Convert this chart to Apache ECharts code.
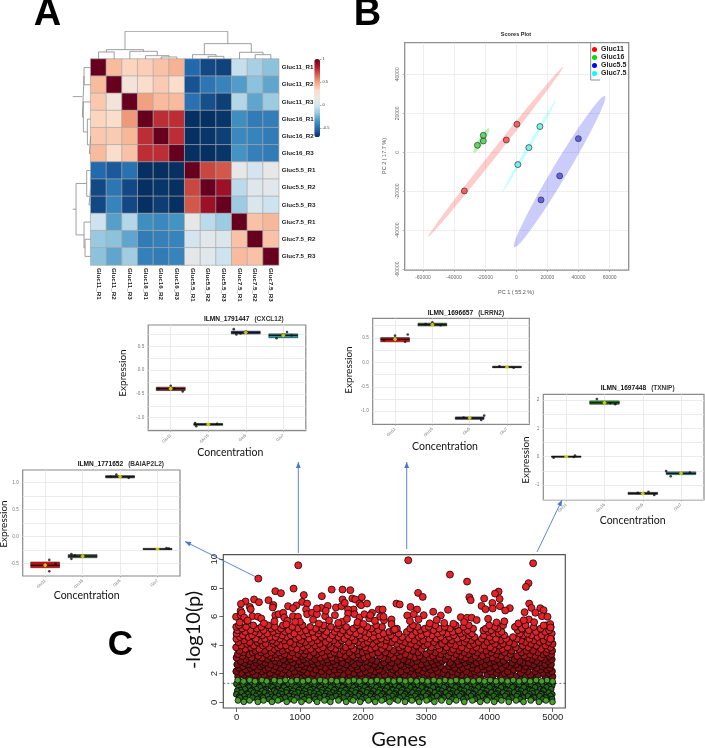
<!DOCTYPE html>
<html><head><meta charset="utf-8">
<style>html,body{margin:0;padding:0;background:#fff}#c{width:705px;height:748px}</style>
<script src="https://cdn.jsdelivr.net/npm/echarts@6/dist/echarts.min.js"></script>
</head><body><div id="c"></div>
<script>
// ---------- A: correlation heat map ----------
const samples=['Gluc11_R1','Gluc11_R2','Gluc11_R3','Gluc16_R1','Gluc16_R2','Gluc16_R3','Gluc5.5_R1','Gluc5.5_R2','Gluc5.5_R3','Gluc7.5_R1','Gluc7.5_R2','Gluc7.5_R3'];
const corr=[
[1,.42,.34,.36,.40,.45,-.52,-.62,-.64,-.05,-.13,-.2],
[.42,1,.22,.30,.37,.30,-.59,-.47,-.42,-.33,-.2,-.30],
[.38,.22,1,.50,.42,.42,-.49,-.6,-.65,-.1,-.3,-.16],
[.34,.30,.52,1,.78,.78,-.72,-.72,-.68,-.38,-.45,-.44],
[.38,.37,.43,.78,1,.78,-.7,-.68,-.65,-.4,-.42,-.45],
[.42,.3,.4,.78,.78,1,-.72,-.72,-.68,-.36,-.43,-.45],
[-.52,-.57,-.49,-.72,-.7,-.7,1,.72,.68,.12,0,.12],
[-.62,-.47,-.62,-.72,-.68,-.72,.72,1,.88,-.08,.07,.08],
[-.62,-.42,-.62,-.7,-.66,-.7,.68,.88,1,-.16,.03,-.03],
[-.03,-.32,-.1,-.38,-.4,-.36,.12,-.08,-.16,1,.4,.43],
[-.17,-.2,-.3,-.45,-.43,-.42,0,.08,.04,.4,1,.4],
[-.2,-.3,-.15,-.43,-.45,-.42,.1,.08,-.03,.42,.4,1]];
const corrTicks=[1,0.5,0,-0.5];
// dendrogram merges: [leftPos,leftHeight,rightPos,rightHeight,height]
const dendroTop=[[.5,0,1.5,0,21],[4.5,0,5.5,0,6],[3.5,0,5,6,10],[2.5,0,4.25,10,23],[1,21,3.375,23,28],[7.5,0,8.5,0,8],[6.5,0,8,8,13],[10.5,0,11.5,0,13],[9.5,0,11,13,20],[7.25,13,10.25,20,46],[2.19,28,8.75,46,83]];
const dendroLeft=[[.5,0,1.5,0,20],[4.5,0,5.5,0,4],[3.5,0,5,4,10],[2.5,0,4.25,10,22],[1,20,3.375,22,25],[2.19,25,2.19,54,54],[7.5,0,8.5,0,5],[6.5,0,8,5,12],[10.5,0,11.5,0,17],[9.5,0,11,17,20],[7.25,12,10.25,20,44],[8.75,44,8.75,54,54]];
const rdbu=['#053061','#2166ac','#4393c3','#92c5de','#d1e5f0','#ece8e5','#fddbc7','#f4a582','#d6604d','#b2182b','#67001f'];

// ---------- B: PCA scores ----------
const pcaGroups=['Gluc11','Gluc16','Gluc5.5','Gluc7.5'];
const pcaRed=[[-33400,-19800],[-6400,6300],[400,14400]];
const pcaGreen=[[-25000,3600],[-21200,5800],[-21200,8700]];
const pcaBlue=[[15900,-24400],[27900,-12100],[39900,7000]];
const pcaCyan=[[1000,-6300],[8100,2400],[15200,13200]];
// ellipses: tip x, tip y, tip x, tip y
const ellRed=[-56600,-43250,30200,43900];
const ellGreen=[-27200,-170,-17600,12300];
const ellBlue=[-1300,-48700,57000,28900];
const ellCyan=[-8800,-20200,25500,26800];
const pcaXTicks=[-60000,-40000,-20000,0,20000,40000,60000];
const pcaYTicks=[-60000,-40000,-20000,0,20000,40000];

// ---------- C: gene box plots ----------
const concCats=['Glu11','Glu16','Glu5','Glu7'];
// box rows: category, upper, median, lower
const cxclBoxes=[[1,-.36,-.39,-.43],[2,-1.12,-1.14,-1.16],[3,.817,.79,.76],[4,.76,.73,.68]];
const cxclPoints=[[1,-.33],[1.32,-.45],[.67,-.39],[1.1,-.39],[1.65,-1.11],[1.68,-1.18],[2.24,-1.13],[2.68,.86],[2.75,.75],[2.86,.77],[3,.81],[3.82,.67],[4,.75],[4.1,.80],[4.22,.73]];
const lrrnBoxes=[[1,.505,.47,.42],[2,.80,.77,.745],[3,-1.118,-1.14,-1.166],[4,-.08,-.10,-.11]];
const lrrnPoints=[[1,.545],[1.34,.57],[1.27,.42],[.7,.45],[1.82,.78],[2,.82],[2.22,.76],[3.31,-1.18],[3.39,-1.09],[2.84,-1.13],[3.8,-.08],[4.18,-.11]];
const txnipBoxes=[[1,.02,0,-.02],[2,1.965,1.9,1.85],[3,-1.26,-1.3,-1.33],[4,-.54,-.59,-.635]];
const txnipPoints=[[.67,-.04],[1.23,.04],[1.2,-.01],[1.8,2.03],[2.15,1.89],[2.28,1.85],[2.87,-1.28],[3.15,-1.24],[3.3,-1.35],[3.61,-.51],[3.73,-.69],[4.23,-.565]];
const baiapBoxes=[[1,-.47,-.53,-.574],[2,-.333,-.36,-.389],[3,1.13,1.11,1.09],[4,-.216,-.23,-.24]];
const baiapPoints=[[1.11,-.43],[1.11,-.64],[1.28,-.5],[1.7,-.32],[1.7,-.41],[1.79,-.35],[2.9,1.15],[3.23,1.09],[2.75,1.11],[4.3,-.22],[4.24,-.21]];
const cxclColors=['#a01818','#2e6b34','#1f2f7f','#1b9aa0'];
const lrrnColors=['#e40000','#1f5a2a','#2a3358','#333333'];
const txnipColors=['#333333','#12a012','#333333','#12a9b4'];
const baiapColors=['#e00000','#2d5f33','#2a3358','#666666'];
const cxclTicks=[-1,-.5,0,.5], cxclMinor=[-1.25,-1,-.75,-.5,-.25,0,.25,.5,.75];
const lrrnTicks=[-1,-.5,0,.5], lrrnMinor=[-1.25,-1,-.75,-.5,-.25,0,.25,.5,.75];
const txnipTicks=[-1,0,1,2], txnipMinor=[-1.5,-1,-.5,0,.5,1,1.5,2];
const baiapTicks=[-.5,0,.5,1], baiapMinor=[-.75,-.5,-.25,0,.25,.5,.75,1];

// ---------- C: -log10(p) per gene, read by eye ----------
const redPeaks=[[342,8.65],[974,9.58],[611,7.77],[700,7.63],[900,7.95],[1062,7.5],[1347,7.42],[1503,7.88],[1674,7.88],[1798,7.84],[1980,7.35],[275,7.19],[352,7],[140,7.05],[67,6.88],[503,7.14],[580,6.8],[570,6.63],[207,6.67],[222,6.51],[813,6.72],[943,6.77],[891,6.58],[1036,7.02],[1114,6.9],[1098,6.49],[1337,6.6],[1440,6.74],[1570,6.63],[1658,6.72],[1674,7.19],[1710,6.95],[1829,7.26],[1876,7.19],[1943,6.9],[1969,6.79],[2062,6.9],[1850,6.49],[1762,6.49],[2249,6.49],[2140,6.26],[2270,5.98],[-10,5.98],[62,6.09],[62,6.4],[78,6.26],[119,5.93],[166,5.67],[249,6.02],[337,5.98],[389,5.86],[611,6.09],[663,6.16],[736,6.26],[751,5.93],[803,5.7],[891,6.02],[969,5.98],[1000,5.63],[1114,6.16],[1192,6.26],[1269,6.16],[1269,6.56],[1399,6.02],[1409,6.4],[1554,6.09],[1668,5.63],[1762,6.21],[1865,6.16],[1943,5.93],[2021,6.16],[2098,5.86],[2114,6.09],[2332,5.74],
[2714,9.93],[4690,9.72],[3374,8.93],[3645,8.44],[4617,8.33],[4576,8.07],[2870,7.65],[2943,7.37],[4144,7.74],[4087,7.6],[3681,7.35],[3702,7.14],[3915,7.26],[4160,7.23],[4045,6.95],[4628,6.9],[3874,6.74],[3936,6.51],[4050,6.56],[4165,6.72],[4321,6.58],[4248,6.42],[4664,6.6],[4804,6.58],[4856,6.44],[4555,6.3],[4726,6.26],[2527,6.9],[2579,6.84],[2750,6.67],[2854,6.49],[3343,6.47],[3109,6.33],[3229,6.07],[3546,5.95],[3645,5.91],[3718,5.91],[2958,6.09],[2698,6.07],[2802,6.16],[2449,5.79],[2449,5.47],[2501,5.09],[2309,6.49],[2324,5.98],[4623,5.79],[4830,6.02],[4918,5.98],[4960,5.47],[4856,5.37],[4965,5.23],[4965,4.44],
[48,5.58],[174,5.71],[432,5.52],[598,5.66],[785,5.45],[925,5.62],[1208,5.77],[1301,5.5],[1462,5.72],[1605,5.55],[1745,5.83],[1912,5.6],[2003,5.48],[2186,5.7],[2741,5.68],[2877,5.8],[3054,5.52],[3166,5.76],[3283,5.55],[3428,5.49],[3598,5.61],[3797,5.75],[3978,5.84],[4111,5.58],[4235,5.66],[4458,5.52],[4542,5.74],[4706,5.6]];
// rows: -log10(p) followed by gene positions
const redRows=[
[1.68,161,318,476,745,1003,1104,1233,1575,1655,1880,2207,2362,2579,2836,3052,3215,3381,3505,3710,3861,4037,4274,4517,4691,4924],
[1.80,22,240,372,550,681,879,1179,1286,1448,1748,1986,2075,2266,2417,2714,2957,3150,3422,3612,3786,4176,4409,4574,4885,4996],
[1.92,116,296,434,602,786,948,1091,1370,1520,1680,1792,2151,2343,2498,2651,2805,3096,3323,3556,3967,4056,4331,4648,4770],
[2.04,75,186,528,712,833,1122,1213,1599,1852,1959,2092,2444,2556,2889,3012,3265,3489,3695,3840,4115,4236,4494,4851,4940],
[2.16,-7,251,399,640,915,1014,1340,1467,1769,2036,2188,2306,2603,2745,2939,3173,3408,3631,3762,4018,4287,4601,4724,4989],
[2.28,142,330,457,584,765,1050,1252,1543,1640,1914,2118,2253,2475,2691,2868,3071,3296,3529,3806,3909,4141,4380,4542,4805,4910],
[2.40,39,215,503,690,870,983,1160,1401,1699,1823,2001,2372,2518,2778,2978,3139,3446,3577,3720,3994,4198,4460,4749,4956],
[2.52,96,267,376,618,808,1076,1316,1492,1618,1897,2067,2224,2422,2641,2832,3032,3230,3357,3651,3883,4093,4310,4570,4662,4838],
[2.64,8,178,421,539,745,957,1028,1209,1559,1733,1860,2177,2291,2593,2724,2925,3121,3414,3520,3742,3935,4256,4416,4698,4880,4973],
[2.76,124,312,451,672,889,1112,1283,1441,1671,1944,2105,2332,2449,2767,3006,3188,3376,3613,3799,4008,4166,4358,4533,4623,4782],
[2.88,63,211,365,604,796,992,1188,1362,1528,1808,2046,2210,2546,2699,2850,3083,3252,3497,3684,3867,4075,4224,4478,4741,4927],
[3.00,152,285,488,736,852,1058,1237,1426,1590,1759,1968,2138,2396,2634,2958,3160,3305,3567,3702,3951,4121,4395,4672,4865,4985],
[3.12,-2,234,403,571,643,926,1131,1322,1503,1652,1877,2019,2316,2481,2812,3052,3208,3433,3620,3829,4046,4277,4596,4814],
[3.24,89,340,525,702,831,1037,1153,1392,1715,1839,2085,2267,2584,2737,2896,3105,3347,3541,3776,3893,4183,4437,4549,4721,4953],
[3.36,18,195,472,610,757,969,1074,1267,1478,1634,1922,2151,2435,2667,2999,3231,3471,3663,3975,4107,4328,4640,4846,4978],
[3.48,107,252,386,549,668,883,1219,1344,1545,1781,1990,2238,2351,2529,2868,3141,3392,3598,3807,4028,4240,4505,4768,4900],
[3.60,46,298,441,725,1011,1100,1436,1689,1896,2058,2477,2601,2786,3063,3274,3515,3731,3944,4136,4349,4583,4688,4991],
[3.72,139,358,597,810,947,1171,1298,1567,1848,2122,2299,2712,2923,3209,3426,3643,3858,4063,4203,4461,4817,4919],
[3.84,-9,226,513,651,866,1049,1365,1489,1727,2033,2192,2408,2570,3076,3318,3561,3790,4012,4285,4416,4614,4967],
[3.96,74,272,414,694,779,1118,1243,1623,1810,1951,2342,2625,2845,2967,3186,3459,3688,3919,4154,4524,4742,4887],
[4.08,163,459,586,901,1000,1316,1451,1595,2008,2146,2274,2529,2756,3020,3248,3383,3752,4086,4214,4388,4657,4999],
[4.20,27,205,329,628,843,1083,1182,1407,1772,1921,2071,2453,2659,2893,3122,3531,3604,3827,3966,4310,4566,4793,4934],
[4.32,118,374,562,748,1021,1274,1533,1663,1865,2217,2368,2583,2811,2948,3295,3402,3710,4039,4177,4498,4702,4854],
[4.44,-6,301,446,682,936,1147,1469,1704,1979,2109,2283,2501,2724,3047,3161,3488,3631,3878,4101,4262,4431,4631,4975],
[4.56,51,183,530,615,792,989,1227,1338,1606,1817,2043,2162,2386,2617,2881,3226,3362,3574,3763,4002,4370,4759,4912],
[4.68,97,243,406,718,857,1064,1395,1512,1758,1939,2255,2440,2773,2924,3092,3435,3676,3911,4234,4540,4664,4826],
[4.80,-3,352,483,640,911,1126,1288,1642,1884,2092,2323,2561,3009,3178,3331,3544,3720,4058,4147,4479,4598,4985],
[4.92,133,288,577,764,1007,1199,1423,1551,1793,2014,2176,2414,2692,2839,3255,3417,3618,3986,4192,4733,4881],
[5.03,12,221,426,659,823,1095,1308,1679,1962,2238,2479,2906,3115,3507,3652,3902,4025,4446,4622,4944],
[5.15,84,317,545,702,968,1251,1356,1587,1845,2129,2535,2744,2977,3203,3372,3741,3940,4129,4512,4807],
[5.27,-8,148,391,604,879,1163,1490,1732,2066,2301,2861,3038,3291,3589,4083,4401,4698,4968],
[5.38,35,262,498,731,1042,1377,1618,1904,2207,2788,3142,3466,3673,3995,4216,4571,4893]];
const greenBright=[
[1.55,15,205,398,593,771,952,1133,1319,1498,1672,1853,2038,2219,2395,2579,2752,2935,3117,3298,3472,3651,3836,4012,4192,4375,4553,4737,4910],
[1.47,108,290,476,684,864,1047,1226,1402,1585,1769,1941,2126,2303,2484,2668,2847,3021,3206,3387,3564,3743,3921,4103,4286,4468,4644,4826,4998],
[0.13,20,203,425,652,909,1143,1388,1609,1842,2083,2294,2551,2772,3004,3241,3474,3728,3962,4189,4421,4652,4893],
[0.03,112,334,558,791,1024,1272,1482,1731,1954,2191,2418,2663,2887,3128,3362,3601,3853,4074,4304,4539,4781,4996]];
const greenDark=[
[1.40,47,163,341,522,730,905,1088,1276,1451,1628,1812,1996,2172,2351,2538,2715,2893,3074,3246,3429,3606,3790,3968,4147,4326,4505,4689,4868],
[1.34,126,392,571,804,1013,1171,1406,1590,1701,1938,2117,2289,2490,2649,2847,3118,3285,3502,3673,3861,4092,4260,4466,4621,4825,4999],
[1.28,-4,238,427,616,818,1002,1190,1364,1553,1727,1905,2085,2262,2443,2621,2803,2979,3161,3342,3517,3700,3880,4058,4238,4418,4596,4779,4957],
[1.16,92,285,501,662,877,1061,1247,1409,1606,1783,1968,2141,2317,2509,2684,2861,3037,3221,3398,3577,3761,3934,4123,4293,4471,4653,4836,4990],
[1.10,183,355,548,735,958,1140,1302,1524,1690,1873,2044,2236,2429,2574,2790,2941,3146,3313,3489,3682,3848,4030,4211,4385,4570,4763,4945],
[1.04,31,197,372,570,749,934,1118,1325,1486,1675,1846,2026,2208,2380,2569,2752,2926,3105,3279,3466,3644,3823,4001,4182,4362,4541,4721,4902],
[0.92,130,312,463,641,841,1023,1207,1388,1564,1740,1932,2103,2290,2457,2640,2817,3002,3183,3356,3535,3718,3905,4083,4263,4440,4622,4808,4975],
[0.86,52,245,436,597,792,985,1163,1354,1542,1718,1889,2071,2263,2473,2618,2829,3012,3197,3372,3549,3751,3892,4105,4279,4454,4640,4851],
[0.80,8,226,405,591,703,892,1075,1263,1442,1649,1818,1989,2164,2346,2526,2698,2878,3059,3243,3421,3598,3777,3952,4137,4315,4497,4675,4853],
[0.68,76,269,447,628,785,970,1156,1339,1519,1695,1881,2061,2240,2420,2599,2783,2955,3136,3311,3493,3672,3859,4029,4215,4391,4570,4754,4938],
[0.62,164,329,512,681,873,1046,1228,1421,1583,1771,1947,2134,2315,2507,2674,2868,3029,3219,3400,3566,3745,3928,4118,4302,4477,4683,4826],
[0.56,-6,180,355,538,716,916,1098,1297,1473,1613,1791,1950,2123,2303,2491,2662,2842,3018,3197,3375,3553,3737,3916,4096,4274,4452,4632,4815,4993],
[0.44,119,301,486,659,828,1036,1218,1392,1572,1752,1925,2108,2278,2461,2635,2821,2993,3168,3350,3524,3706,3888,4066,4249,4430,4607,4792,4966],
[0.38,37,207,394,563,741,903,1114,1276,1462,1642,1829,2004,2188,2362,2557,2725,2904,3081,3262,3437,3619,3795,3972,4151,4338,4518,4698,4899],
[0.32,54,250,418,606,767,950,1141,1310,1500,1688,1866,2046,2222,2399,2578,2756,2912,3090,3272,3448,3631,3813,3990,4169,4347,4528,4705,4883],
[0.22,140,328,513,692,857,1069,1242,1430,1620,1797,1976,2153,2329,2513,2690,2865,3047,3228,3405,3584,3768,3943,4113,4301,4484,4660,4843,4990]];
const manXTicks=[0,1000,2000,3000,4000,5000];
const manYTicks=[0,2,4,6,8,10];
const thresholdP=1.33;

// ---------- layout & style (no data below) ----------
const SANS='"Liberation Sans",Arial,sans-serif', HUM='Lato,"Open Sans",sans-serif';
const grids=[],xAxes=[],yAxes=[],series=[],titles=[],graphics=[];
function addGrid(box,x,y){grids.push(Object.assign({containLabel:false},box));const i=grids.length-1;
  xAxes.push(Object.assign({gridIndex:i},x));yAxes.push(Object.assign({gridIndex:i},y));return i;}
const hidden={show:false};
const noLine={show:false,onZero:false};
const plain=v=>String(v);
const expand=rows=>rows.flatMap(r=>r.slice(1).map(x=>[x,r[0]]));

// heat map
const hm=addGrid({left:90.7,top:59,width:188,height:206,show:false},
 {type:'category',data:samples,position:'bottom',axisLine:hidden,axisTick:hidden,axisLabel:{rotate:-90,fontSize:6.2,fontWeight:'bold',color:'#222',fontFamily:SANS,margin:3,interval:0}},
 {type:'category',data:samples,inverse:true,position:'right',axisLine:hidden,axisTick:hidden,axisLabel:{fontSize:6.2,fontWeight:'bold',color:'#222',fontFamily:SANS,margin:3,interval:0}});
const hmData=[];corr.forEach((row,r)=>row.forEach((v,c)=>hmData.push([c,r,v])));
series.push({id:'heat',type:'heatmap',xAxisIndex:hm,yAxisIndex:hm,data:hmData,itemStyle:{borderColor:'#a9a9a9',borderWidth:.7},silent:true});
// colour bar ticks
const cb=addGrid({left:314.3,top:59,width:5.7,height:78,show:false},
 {type:'value',show:false,min:0,max:1},
 {type:'value',min:-.7,max:1,position:'right',axisLine:noLine,splitLine:hidden,axisTick:{length:1.5,lineStyle:{color:'#555',width:.5},customValues:corrTicks},axisLabel:{fontSize:4,color:'#333',margin:2.5,fontFamily:SANS,customValues:corrTicks}});
// dendrograms
const dt=addGrid({left:90.7,top:31.3,width:188,height:27.7,show:false},{type:'value',show:false,min:0,max:12},{type:'value',show:false,min:0,max:83});
dendroTop.forEach(m=>series.push({type:'line',xAxisIndex:dt,yAxisIndex:dt,symbol:'none',silent:true,lineStyle:{color:'#888',width:.8},data:[[m[0],m[1]],[m[0],m[4]],[m[2],m[4]],[m[2],m[3]]]}));
const dl=addGrid({left:72.7,top:59,width:18,height:206,show:false},{type:'value',show:false,min:0,max:54,inverse:true},{type:'value',show:false,min:0,max:12,inverse:true});
dendroLeft.forEach(m=>series.push({type:'line',xAxisIndex:dl,yAxisIndex:dl,symbol:'none',silent:true,lineStyle:{color:'#888',width:.8},data:[[m[1],m[0]],[m[4],m[0]],[m[4],m[2]],[m[3],m[2]]]}));

// PCA
const gridDot={lineStyle:{color:'#dedede',type:'dotted',width:1}};
const pca=addGrid({left:404.7,top:42.7,width:224,height:227.3,show:true,borderColor:'#8f8f8f',borderWidth:1.3,backgroundColor:'#fff'},
 {type:'value',min:-71740,max:72270,splitLine:Object.assign({show:true},gridDot),axisLine:noLine,axisTick:{length:2,lineStyle:{color:'#777',width:.5},customValues:pcaXTicks},axisLabel:{fontSize:5,color:'#666',margin:5,fontFamily:SANS,customValues:pcaXTicks,formatter:plain}},
 {type:'value',min:-60350,max:56200,splitLine:Object.assign({show:true},gridDot),axisLine:noLine,axisTick:{length:2,lineStyle:{color:'#777',width:.5},customValues:pcaYTicks},axisLabel:{fontSize:5,color:'#666',margin:5,rotate:90,fontFamily:SANS,customValues:pcaYTicks,formatter:plain}});
const pcaStyle=[['rgba(255,0,0,.2)',pcaRed,ellRed,3.2,'rgba(245,60,60,.75)'],['rgba(0,190,0,.25)',pcaGreen,ellGreen,2.8,'rgba(60,205,60,.75)'],['rgba(0,0,230,.2)',pcaBlue,ellBlue,7.5,'rgba(70,70,225,.8)'],['rgba(0,255,255,.22)',pcaCyan,ellCyan,1.7,'rgba(90,235,235,.75)']];
function ellipseItem(params,api){
  const a=api.coord([api.value(0),api.value(1)]),b=api.coord([api.value(2),api.value(3)]);
  const cx=(a[0]+b[0])/2,cy=(a[1]+b[1])/2,dx=(b[0]-a[0])/2,dy=(b[1]-a[1])/2,len=Math.hypot(dx,dy),w=api.value(4);
  const pts=[];for(let i=0;i<64;i++){const t=i/64*2*Math.PI,u=Math.cos(t),v=Math.sin(t)*w/len;pts.push([cx+dx*u-dy*v,cy+dy*u+dx*v]);}
  return {type:'polygon',shape:{points:pts},style:{fill:api.visual('color')}};
}
pcaStyle.forEach(s=>series.push({type:'custom',xAxisIndex:pca,yAxisIndex:pca,silent:true,renderItem:ellipseItem,itemStyle:{color:s[0]},encode:{x:[0,2],y:[1,3]},data:[[...s[2],s[3]]],z:2}));
pcaStyle.forEach((s,i)=>series.push({name:pcaGroups[i],type:'scatter',xAxisIndex:pca,yAxisIndex:pca,data:s[1],symbolSize:6,silent:true,itemStyle:{color:s[4],borderColor:'#333',borderWidth:.7,opacity:1},z:3}));

// box plots
function boxItem(params,api){
  const x=api.value(0),half=.385,a=api.coord([x-half,api.value(1)]),b=api.coord([x+half,api.value(3)]),m=api.value(2),l=api.coord([x-half,m]),r=api.coord([x+half,m]);
  return {type:'group',children:[
   {type:'rect',shape:{x:a[0],y:a[1],width:b[0]-a[0],height:b[1]-a[1]},style:{fill:api.visual('color'),stroke:'#333',lineWidth:.7}},
   {type:'line',shape:{x1:l[0],y1:l[1],x2:r[0],y2:r[1]},style:{stroke:'#111',lineWidth:1.2}}]};
}
function boxPanel(box,yr,ticks,minor,boxes,colors,points){
  const lg={lineStyle:{color:'#e6e6e6',width:.8}};
  const g=addGrid(Object.assign({show:true,borderColor:'#8a8a8a',borderWidth:1.2},box),
   {type:'value',min:.4,max:4.6,splitLine:Object.assign({show:true},lg),axisLine:noLine,axisTick:{length:1.5,lineStyle:{color:'#888',width:.5},customValues:[1,2,3,4]},
    axisLabel:{customValues:[1,2,3,4],formatter:v=>concCats[v-1],rotate:45,fontSize:4.2,color:'#777',margin:4,fontFamily:SANS}},
   {type:'value',min:yr[0],max:yr[1],splitLine:Object.assign({show:true},lg),axisLine:noLine,axisTick:{show:false,customValues:minor},
    axisLabel:{customValues:ticks,fontSize:4.6,color:'#777',margin:4,fontFamily:SANS,formatter:v=>ticks.some(t=>Math.abs(t)%1)?v.toFixed(1):String(v)}});
  series.push({type:'custom',xAxisIndex:g,yAxisIndex:g,silent:true,renderItem:boxItem,encode:{x:0,y:[1,2,3]},z:3,
    data:boxes.map((b,i)=>({value:b,itemStyle:{color:colors[i]}}))});
  series.push({type:'scatter',xAxisIndex:g,yAxisIndex:g,silent:true,data:points,symbolSize:2.6,itemStyle:{color:'#111'},z:4});
  series.push({type:'scatter',xAxisIndex:g,yAxisIndex:g,silent:true,data:boxes.map(b=>[b[0],b[2]]),symbol:'diamond',symbolSize:4.5,itemStyle:{color:'#f4f000'},z:5});
}
boxPanel({left:148.2,top:325,width:157.6,height:105.7},[-1.273,.947],cxclTicks,cxclMinor,cxclBoxes,cxclColors,cxclPoints);
boxPanel({left:372.7,top:318.3,width:156.6,height:106},[-1.268,.9],lrrnTicks,lrrnMinor,lrrnBoxes,lrrnColors,lrrnPoints);
boxPanel({left:543.3,top:394.3,width:160.7,height:105.7},[-1.53,2.2],txnipTicks,txnipMinor,txnipBoxes,txnipColors,txnipPoints);
boxPanel({left:22.7,top:470,width:157.3,height:106},[-.728,1.235],baiapTicks,baiapMinor,baiapBoxes,baiapColors,baiapPoints);

// Manhattan
const man=addGrid({left:223.3,top:554.7,width:342,height:153.3,show:true,borderColor:'#555',borderWidth:1.2},
 {type:'value',min:-212,max:5199,splitLine:hidden,axisLine:noLine,axisTick:{length:4,lineStyle:{color:'#444',width:.8},customValues:manXTicks},axisLabel:{fontSize:9.5,color:'#222',margin:4,fontFamily:SANS,customValues:manXTicks,formatter:plain}},
 {type:'value',min:-.4,max:10.32,splitLine:hidden,axisLine:noLine,axisTick:{length:4,lineStyle:{color:'#444',width:.8},customValues:manYTicks},axisLabel:{fontSize:9.5,color:'#222',margin:4,rotate:90,fontFamily:SANS,customValues:manYTicks,formatter:plain}});
series.push({type:'line',xAxisIndex:man,yAxisIndex:man,silent:true,symbol:'none',data:[[-212,thresholdP],[5199,thresholdP]],lineStyle:{color:'#333',type:[2,2],width:.7},z:1});
// overlapping outlines darken the mass towards the threshold
const redShade=p=>{const y=p.value[1];return y>4.4?'#e2222a':y>3.7?'#cb1a21':y>3?'#a81218':'#7f0e13';};
const manSer=(data,color,size,z,bw)=>series.push({type:'scatter',xAxisIndex:man,yAxisIndex:man,silent:true,large:false,data,symbolSize:size,z,itemStyle:{color,borderColor:'#0a0a0a',borderWidth:bw,opacity:1}});
manSer(expand(redRows),redShade,6.8,2,.9);
manSer(redPeaks,'#ea1f27',7,5,.8);
manSer(expand(greenDark),'#25661b',5.8,2,.9);
manSer(expand(greenBright),'#45a02c',5.8,3,.8);

// titles
const ttl=(x,y,b,n)=>titles.push({left:x,top:y,text:`{b|${b}} {n|${n}}`,padding:0,textStyle:{rich:{b:{fontSize:6.6,fontWeight:'bold',color:'#111',fontFamily:SANS},n:{fontSize:6.5,color:'#333',fontFamily:SANS}}}});
ttl(204,310,'ILMN_1791447','(CXCL12)');
ttl(427.7,304,'ILMN_1696657','(LRRN2)');
ttl(600.7,379,'ILMN_1697448','(TXNIP)');
ttl(77.7,455,'ILMN_1771652','(BAIAP2L2)');
titles.push({left:516,top:31,textAlign:'center',text:'Scores Plot',padding:0,textStyle:{fontSize:5.5,fontWeight:'bold',color:'#222',fontFamily:SANS}});

// free texts
const txt=(x,y,text,size,opt={})=>graphics.push({type:'text',x,y,rotation:opt.rot||0,silent:true,style:{text,textAlign:opt.align||'center',textVerticalAlign:opt.va||'middle',fontSize:size,fontWeight:opt.w||'normal',fontFamily:opt.f||HUM,fill:opt.c||'#111'}});
[[230.3,453],[445,447],[632.7,521],[86.7,596]].forEach(p=>txt(p[0],p[1],'Concentration',10.5));
[[122.7,373],[349,370],[525.7,460],[4,524]].forEach(p=>txt(p[0],p[1],'Expression',10,{rot:Math.PI/2}));
txt(399,740,'Genes',20);
txt(194,630,'-log10(p)',20,{rot:Math.PI/2});
txt(516,292,'PC 1 ( 55.2 %)',5.5,{f:SANS,c:'#555'});
txt(384,156,'PC 2 ( 17.7 %)',5.5,{f:SANS,c:'#555',rot:Math.PI/2});
txt(47.5,34,'A',38,{f:SANS,w:'bold',va:'bottom',c:'#000'});
txt(367.5,34,'B',38,{f:SANS,w:'bold',va:'bottom',c:'#000'});
txt(120.5,663,'C',35,{f:SANS,w:'bold',va:'bottom',c:'#000'});

// PCA legend box
const ln=(x1,y1,x2,y2,color,w)=>graphics.push({type:'line',silent:true,shape:{x1,y1,x2,y2},style:{stroke:color,lineWidth:w}});
ln(590.7,43,590.7,80,'#8f8f8f',1);ln(590.7,80,600,80,'#8f8f8f',1);

// arrows
const arrow=(x1,y1,x2,y2)=>{ln(x1,y1,x2,y2,'#5b86d6',1);
  const a=Math.atan2(y2-y1,x2-x1),L=6,W=2.4,bx=x2-L*Math.cos(a),by=y2-L*Math.sin(a),nx=-Math.sin(a)*W,ny=Math.cos(a)*W;
  graphics.push({type:'polygon',silent:true,shape:{points:[[x2,y2],[bx+nx,by+ny],[bx-nx,by-ny]]},style:{fill:'#4a78cc'}});};
arrow(256,577,185,541.5);arrow(298.3,553,298.3,462);arrow(406.7,549,406.7,462);arrow(537,552,562,500);

const chart=echarts.init(document.getElementById('c'),null,{renderer:'canvas'});
chart.setOption({animation:false,backgroundColor:'#fff',tooltip:{show:false},
 title:titles,grid:grids,xAxis:xAxes,yAxis:yAxes,series,
 visualMap:[{type:'continuous',seriesId:'heat',seriesIndex:0,min:-.7,max:1,dimension:2,left:314.3,top:59,itemWidth:5.7,itemHeight:78,padding:0,calculable:false,text:null,hoverLink:false,inRange:{color:rdbu}}],
 legend:[{orient:'vertical',left:592,top:46,padding:0,itemWidth:5,itemHeight:5,itemGap:1,icon:'circle',selectedMode:false,
   textStyle:{fontSize:7,fontWeight:'bold',color:'#222',fontFamily:SANS,padding:[0,0,0,-1]},
   data:[{name:'Gluc11',itemStyle:{color:'#ff0000',borderWidth:0}},{name:'Gluc16',itemStyle:{color:'#00dd00',borderWidth:0}},{name:'Gluc5.5',itemStyle:{color:'#0000ff',borderWidth:0}},{name:'Gluc7.5',itemStyle:{color:'#00ffff',borderWidth:0}}]}],
 graphic:{elements:graphics}});
</script></body></html>
